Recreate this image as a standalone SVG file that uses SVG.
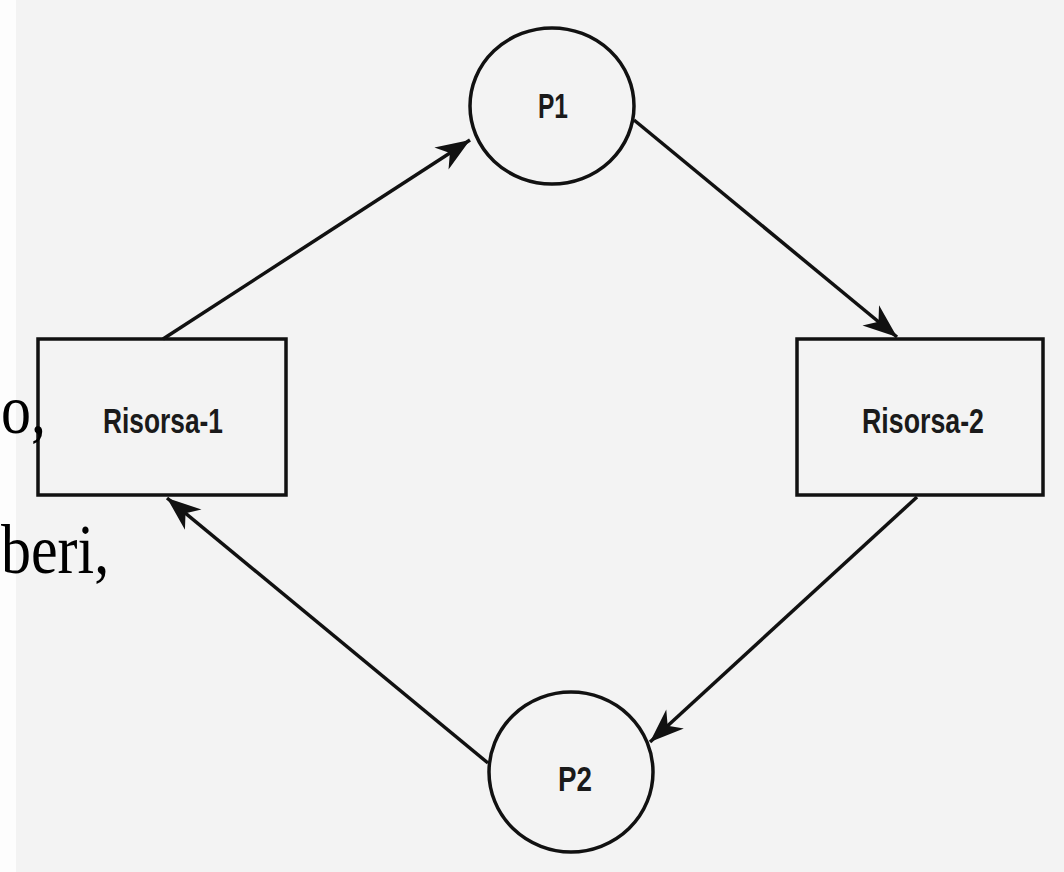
<svg xmlns="http://www.w3.org/2000/svg" width="1064" height="872" viewBox="0 0 1064 872">
  <style>
    .shape { fill: none; stroke: #111; stroke-width: 3.5; }
    .edge { fill: none; stroke: #111; stroke-width: 3.5; marker-end: url(#arrow); }
    .label { font-family: "Liberation Sans", Arial, sans-serif; font-weight: bold; font-size: 35px; fill: #1a1a1a; text-anchor: middle; }
    .side { font-family: "Liberation Serif", "Times New Roman", serif; font-size: 60px; fill: #000; }
  </style>
  <defs>
    <marker id="arrow" markerUnits="userSpaceOnUse" markerWidth="44" markerHeight="34" viewBox="-36 -17 38 34" refX="0" refY="0" orient="auto">
      <path d="M0,0 L-34,-13 L-24,0 L-34,13 Z" fill="#111"/>
    </marker>
  </defs>
  <rect x="0" y="0" width="1064" height="872" fill="#f3f3f3"/>
  <rect x="0" y="0" width="16" height="872" fill="#fdfdfd"/>

  <g id="connectors">
    <path class="edge" d="M163,339 L470,140"/>
    <path class="edge" d="M634,120 L897,337"/>
    <path class="edge" d="M917,497 L650,742"/>
    <path class="edge" d="M488,763 L167,498"/>
  </g>

  <g id="P1">
    <ellipse class="shape" cx="552" cy="106" rx="82" ry="78"/>
    <text class="label" x="553" y="118" textLength="30" lengthAdjust="spacingAndGlyphs">P1</text>
  </g>
  <g id="P2">
    <ellipse class="shape" cx="571" cy="772" rx="82" ry="80"/>
    <text class="label" x="575" y="791" textLength="34" lengthAdjust="spacingAndGlyphs">P2</text>
  </g>
  <g id="Risorsa-1">
    <rect class="shape" x="38" y="339" width="248" height="156"/>
    <text class="label" x="163" y="433" textLength="120" lengthAdjust="spacingAndGlyphs">Risorsa-1</text>
  </g>
  <g id="Risorsa-2">
    <rect class="shape" x="797" y="339" width="246" height="156"/>
    <text class="label" x="923" y="433" textLength="122" lengthAdjust="spacingAndGlyphs">Risorsa-2</text>
  </g>

  <g id="side-text">
    <text class="side" x="1" y="433" transform="translate(0,433) scale(1,1.15) translate(0,-433)">o,</text>
    <text class="side" x="1" y="573" transform="translate(0,573) scale(1,1.15) translate(0,-573)">beri,</text>
  </g>
</svg>
